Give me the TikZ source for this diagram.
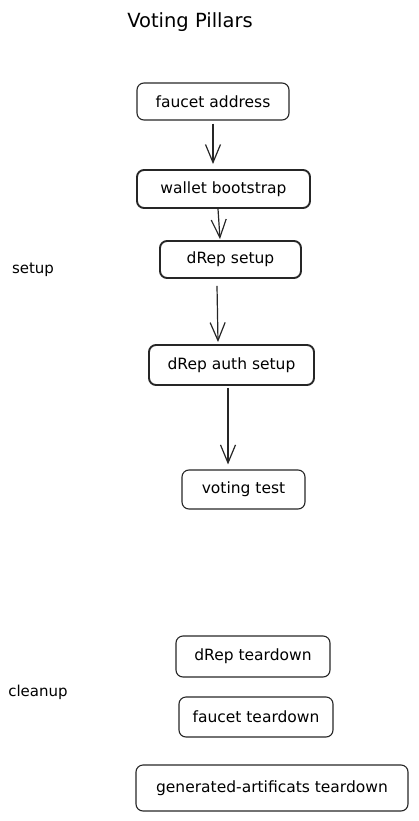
\documentclass[tikz,border=0pt]{standalone}
\usepackage{fontspec}
\setmainfont{DejaVu Sans}
\usetikzlibrary{arrows.meta}
\begin{document}
\begin{tikzpicture}[x=1pt,y=-1pt,
  box/.style={draw=black!85, rounded corners=7pt, line width=1.1pt, font=\fontsize{15.5}{17}\selectfont, inner sep=0pt, anchor=center},
  boxthick/.style={box, line width=1.9pt},
  arr/.style={draw=black!85, line width=1.2pt, -{Straight Barb[length=18pt,width=15pt]}},
  lbl/.style={font=\fontsize{15}{17}\selectfont, inner sep=0pt}
]
\useasboundingbox (0,0) rectangle (418,821);
\node[lbl, font=\fontsize{19.5}{22}\selectfont] (title) at (190,22) {Voting Pillars};
\node[lbl] (setup) at (33,270) {setup};
\node[lbl] (cleanup) at (38,692) {cleanup};

\node[box, minimum width=152pt, minimum height=37pt] (fa) at (213,101.5) {faucet address};
\node[boxthick, minimum width=173pt, minimum height=38pt] (wb) at (223.5,189) {wallet bootstrap};
\node[boxthick, minimum width=141pt, minimum height=37pt] (ds) at (230.5,259.5) {dRep setup};
\node[boxthick, minimum width=165pt, minimum height=40pt] (das) at (231.5,365) {dRep auth setup};
\node[box, minimum width=123pt, minimum height=39pt] (vt) at (243.5,489.5) {voting test};
\node[box, minimum width=154pt, minimum height=41pt] (dt) at (253,656.5) {dRep teardown};
\node[box, minimum width=154pt, minimum height=40pt] (ft) at (256,717) {faucet teardown};
\node[box, minimum width=272pt, minimum height=46pt] (gt) at (272,788) {generated-artificats teardown};

\draw[arr] ([yshift=-3pt]fa.south) -- ([yshift=5pt]wb.north -| fa.south);
\draw[arr] ([xshift=-5.5pt]wb.south) -- ([xshift=-10.5pt,yshift=1pt]ds.north);
\draw[arr] ([xshift=-13.5pt,yshift=-7pt]ds.south) -- ([xshift=-13.5pt,yshift=2pt]das.north);
\draw[arr] ([xshift=-3.5pt,yshift=-2pt]das.south) -- ([xshift=-15.5pt,yshift=5pt]vt.north);
\end{tikzpicture}
\end{document}
